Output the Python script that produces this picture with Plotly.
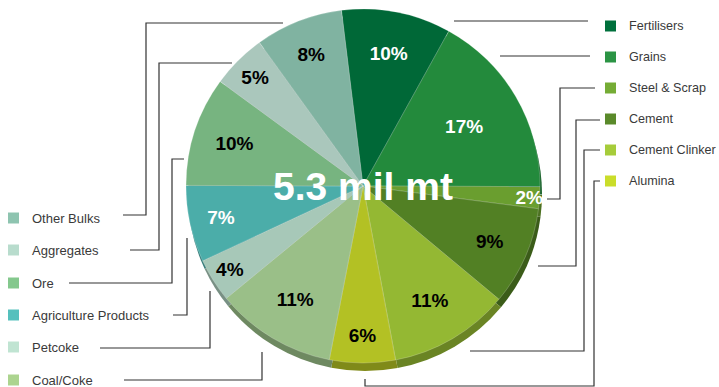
import plotly.graph_objects as go

W, H = 719, 387

categories = ["Fertilisers", "Grains", "Steel & Scrap", "Cement", "Cement Clinker", "Alumina",
              "Coal/Coke", "Petcoke", "Agriculture Products", "Ore", "Aggregates", "Other Bulks"]
shares = [10, 17, 2, 9, 11, 6, 11, 4, 7, 10, 5, 8]
slice_colors = ["#006837", "#238a3c", "#6a9e2f", "#528024", "#94b833", "#b3c124",
                "#9abf88", "#a7c8b8", "#4bada9", "#77b480", "#aac7bc", "#80b3a1"]
legend_colors = ["#00703c", "#2b9444", "#75ac35", "#5a8a2a", "#a6cc3a", "#cadd2a",
                 "#acd48f", "#c0e4d2", "#55c0bd", "#84c88d", "#b8dccd", "#8ec4b0"]
text_colors = ["white", "white", "white", "black", "black", "black",
               "black", "black", "white", "black", "black", "black"]
center_label = "5.3 mil mt"

right_items = ["Fertilisers", "Grains", "Steel & Scrap", "Cement", "Cement Clinker", "Alumina"]
left_items = ["Other Bulks", "Aggregates", "Ore", "Agriculture Products", "Petcoke", "Coal/Coke"]


def px(x):
    return x / W


def py(y):
    return 1 - y / H


def darken(hexc, f=0.72):
    h = hexc.lstrip("#")
    r, g, b = (int(h[i:i + 2], 16) for i in (0, 2, 4))
    return "#%02x%02x%02x" % (int(r * f), int(g * f), int(b * f))


# pie geometry (pixels)
cx, cy, R = 363, 186, 177
dom_x = [px(cx - R), px(cx + R)]
dom_y = [py(cy + R), py(cy - R)]
dx3, dy3 = 2, 8
dom_x3 = [px(cx - R + dx3), px(cx + R + dx3)]
dom_y3 = [py(cy + R + dy3), py(cy - R + dy3)]

fig = go.Figure()
# depth rim
fig.add_trace(go.Pie(
    labels=categories, values=shares, sort=False, direction="clockwise", rotation=-7,
    marker=dict(colors=[darken(c) for c in slice_colors], line=dict(width=0)),
    textinfo="none", hoverinfo="skip", showlegend=False,
    domain=dict(x=dom_x3, y=dom_y3)))
# top face
fig.add_trace(go.Pie(
    labels=categories, values=shares, sort=False, direction="clockwise", rotation=-7,
    marker=dict(colors=slice_colors, line=dict(width=0.6, color="rgba(255,255,255,0.35)")),
    texttemplate="%{value}%", textposition="inside", insidetextorientation="horizontal",
    insidetextfont=dict(family="Liberation Sans", size=19, color=text_colors, weight="bold"),
    showlegend=False, domain=dict(x=dom_x, y=dom_y)))

annotations = [dict(x=px(cx), y=py(cy), xref="paper", yref="paper", text="<b>%s</b>" % center_label,
                    showarrow=False, font=dict(family="Liberation Sans", size=39, color="white"),
                    xanchor="center", yanchor="middle")]
shapes = []

right_y = [26, 57, 88, 119, 150, 181]
left_y = [218, 250, 283, 315, 347, 380]
for name, yy in zip(right_items, right_y):
    c = legend_colors[categories.index(name)]
    shapes.append(dict(type="rect", xref="paper", yref="paper", x0=px(605), x1=px(616),
                       y0=py(yy + 5.5), y1=py(yy - 5.5), fillcolor=c, line=dict(width=0)))
    annotations.append(dict(x=px(627), y=py(yy), xref="paper", yref="paper", text=name, showarrow=False,
                            xanchor="left", yanchor="middle",
                            font=dict(family="Liberation Sans", size=12.6, color="#3a3a3a")))
for name, yy in zip(left_items, left_y):
    c = legend_colors[categories.index(name)]
    shapes.append(dict(type="rect", xref="paper", yref="paper", x0=px(8), x1=px(19),
                       y0=py(yy + 5.5), y1=py(yy - 5.5), fillcolor=c, line=dict(width=0)))
    annotations.append(dict(x=px(30), y=py(yy), xref="paper", yref="paper", text=name, showarrow=False,
                            xanchor="left", yanchor="middle",
                            font=dict(family="Liberation Sans", size=13, color="#3a3a3a")))

leaders = [
    [(123, 215), (146, 215), (146, 23), (283, 23)],
    [(130, 250), (159, 250), (159, 63), (232, 63)],
    [(69, 283), (172, 283), (172, 159), (184, 159)],
    [(173, 315), (187, 315), (187, 238)],
    [(100, 348), (210, 348), (210, 291)],
    [(124, 380), (262, 380), (262, 352)],
    [(454, 21), (588, 21)],
    [(500, 56), (590, 56)],
    [(595, 88), (560, 88), (560, 199), (547, 199)],
    [(600, 120), (576, 120), (576, 266), (538, 266)],
    [(600, 150), (584, 150), (584, 351), (470, 351)],
    [(600, 181), (594, 181), (594, 386), (365, 386), (365, 379)],
]
for pts in leaders:
    path = "M " + " L ".join("%.5f,%.5f" % (px(x), py(y)) for x, y in pts)
    shapes.append(dict(type="path", xref="paper", yref="paper", path=path,
                       line=dict(color="#333333", width=1.2)))

fig.update_layout(width=W, height=H, margin=dict(l=0, r=0, t=0, b=0),
                  paper_bgcolor="white", plot_bgcolor="white",
                  uniformtext=dict(minsize=19, mode="show"),
                  annotations=annotations, shapes=shapes)
fig.write_html("out.html", config={"displayModeBar": False},
               post_script="document.body.style.margin='0';document.body.style.overflow='hidden';")
